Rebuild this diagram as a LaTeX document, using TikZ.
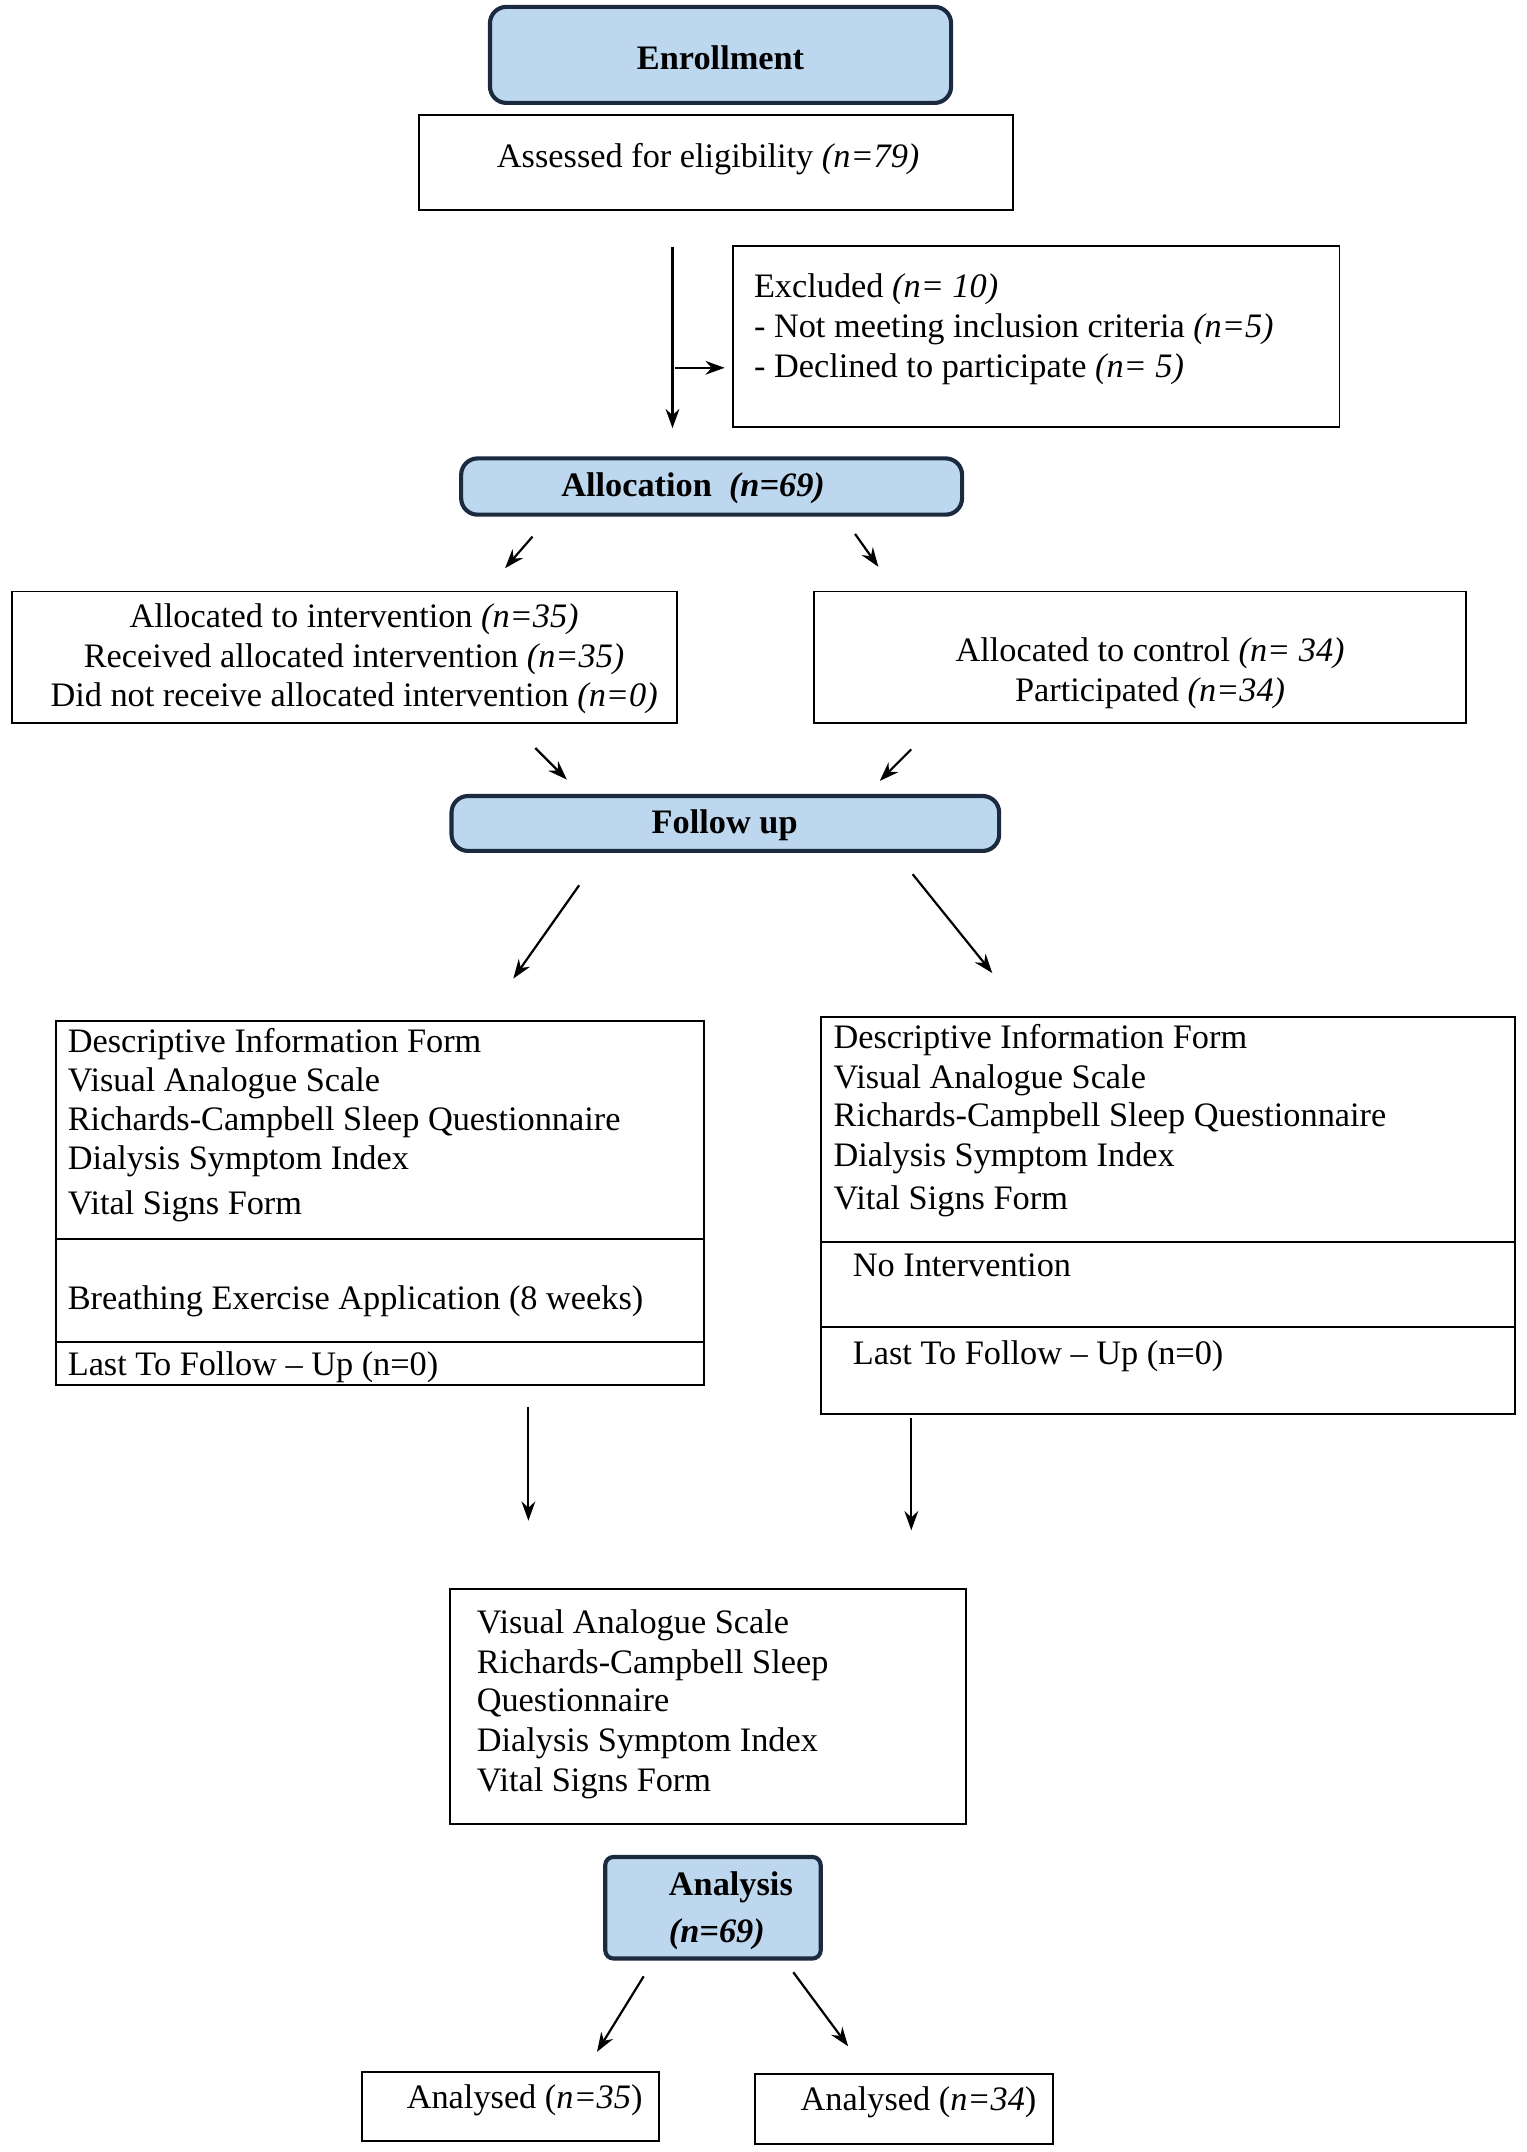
\documentclass[tikz,border=0pt]{standalone}
\usepackage{fontspec}
\setmainfont{Liberation Serif}
\usetikzlibrary{arrows.meta,fit}
\definecolor{hdrfill}{HTML}{BDD7EE}
\definecolor{hdrdraw}{HTML}{1B2A3E}
\begin{document}
\begin{tikzpicture}[x=0.5pt,y=-0.5pt,
  font=\fontsize{12.5}{14.5}\selectfont,
  hdr/.style={draw=hdrdraw, fill=hdrfill, line width=1.5pt, rounded corners=6pt, inner sep=0pt},
  box/.style={draw=black, line width=0.7pt, inner sep=0pt},
  txt/.style={inner sep=0pt, anchor=base west},
  ctxt/.style={inner sep=0pt, anchor=base},
  arr/.style={-{Stealth[length=7pt,width=5pt]}, line width=0.8pt}]
\useasboundingbox[fill=white] (0,0) rectangle (1112,1568);

% ---------- Enrollment ----------
\node[hdr, fit={(357,5) (693,75)}] (enroll) {};
\node[ctxt, font=\fontsize{12.5}{14.5}\selectfont\bfseries] (enrollT) at (525,51) {Enrollment};

\node[box, fit={(305,84) (738,153)}] (assess) {};
\node[ctxt] (assessT) at (516,122) {Assessed for eligibility \textit{(n=79)}};

\coordinate (v1) at (490,180);
\coordinate (v2) at (490,312);
\draw[arr] (v1) -- (v2);
\coordinate (h1) at (492,268);
\coordinate (h2) at (528,268);
\draw[arr] (h1) -- (h2);

\node[box, fit={(534,179) (976,311)}] (excl) {};
\node[txt] (ex1) at (549,217) {Excluded \textit{(n= 10)}};
\node[txt] (ex2) at (549,246) {- Not meeting inclusion criteria \textit{(n=5)}};
\node[txt] (ex3) at (549,275) {- Declined to participate \textit{(n= 5)}};

% ---------- Allocation ----------
\node[hdr, fit={(336,334) (701,375)}] (alloc) {};
\node[ctxt, font=\fontsize{12.5}{14.5}\selectfont\bfseries] (allocT) at (505,362) {Allocation~~\textit{(n=69)}};

\coordinate (a1s) at (388,391); \coordinate (a1e) at (368,414);
\coordinate (a2s) at (623,389); \coordinate (a2e) at (640,413);
\draw[arr] (a1s) -- (a1e);
\draw[arr] (a2s) -- (a2e);

\node[box, fit={(9,431) (493,527)}] (interv) {};
\node[ctxt] (iv1) at (258,457) {Allocated to intervention \textit{(n=35)}};
\node[ctxt] (iv2) at (258,486) {Received allocated intervention \textit{(n=35)}};
\node[ctxt] (iv3) at (258,515) {Did not receive allocated intervention \textit{(n=0)}};

\node[box, fit={(593,431) (1068,527)}] (ctrl) {};
\node[ctxt] (ct1) at (838,482) {Allocated to control \textit{(n= 34)}};
\node[ctxt] (ct2) at (838,511) {Participated \textit{(n=34)}};

\coordinate (b1s) at (390,545); \coordinate (b1e) at (413,568);
\coordinate (b2s) at (664,546); \coordinate (b2e) at (641,569);
\draw[arr] (b1s) -- (b1e);
\draw[arr] (b2s) -- (b2e);

% ---------- Follow up ----------
\node[hdr, fit={(329,580) (728,620)}] (follow) {};
\node[ctxt, font=\fontsize{12.5}{14.5}\selectfont\bfseries] (followT) at (528,607) {Follow up};

\coordinate (c1s) at (422,645); \coordinate (c1e) at (374,713);
\coordinate (c2s) at (665,637); \coordinate (c2e) at (723,709);
\draw[arr] (c1s) -- (c1e);
\draw[arr] (c2s) -- (c2e);

% left big box
\node[box, fit={(41,744) (513,1009)}] (lbox) {};
\coordinate (ld1a) at (41,903);  \coordinate (ld1b) at (513,903);
\coordinate (ld2a) at (41,978);  \coordinate (ld2b) at (513,978);
\draw[line width=0.7pt] (ld1a) -- (ld1b);
\draw[line width=0.7pt] (ld2a) -- (ld2b);
\node[txt] (l1) at (49,767) {Descriptive Information Form};
\node[txt] (l2) at (49,795) {Visual Analogue Scale};
\node[txt] (l3) at (49,824) {Richards-Campbell Sleep Questionnaire};
\node[txt] (l4) at (49,852) {Dialysis Symptom Index};
\node[txt] (l5) at (49,885) {Vital Signs Form};
\node[txt] (l6) at (49,954) {Breathing Exercise Application (8 weeks)};
\node[txt] (l7) at (49,1002) {Last To Follow -- Up (n=0)};

% right big box
\node[box, fit={(598,741) (1104,1030)}] (rbox) {};
\coordinate (rd1a) at (598,905);  \coordinate (rd1b) at (1104,905);
\coordinate (rd2a) at (598,967);  \coordinate (rd2b) at (1104,967);
\draw[line width=0.7pt] (rd1a) -- (rd1b);
\draw[line width=0.7pt] (rd2a) -- (rd2b);
\node[txt] (r1) at (607,764) {Descriptive Information Form};
\node[txt] (r2) at (607,793) {Visual Analogue Scale};
\node[txt] (r3) at (607,821) {Richards-Campbell Sleep Questionnaire};
\node[txt] (r4) at (607,850) {Dialysis Symptom Index};
\node[txt] (r5) at (607,881) {Vital Signs Form};
\node[txt] (r6) at (621,930) {No Intervention};
\node[txt] (r7) at (621,994) {Last To Follow -- Up (n=0)};

\coordinate (d1s) at (385,1025); \coordinate (d1e) at (385,1108);
\coordinate (d2s) at (664,1033); \coordinate (d2e) at (664,1115);
\draw[arr] (d1s) -- (d1e);
\draw[arr] (d2s) -- (d2e);

% ---------- bottom box ----------
\node[box, fit={(328,1158) (704,1329)}] (post) {};
\node[txt] (p1) at (347,1190) {Visual Analogue Scale};
\node[txt] (p2) at (347,1219) {Richards-Campbell Sleep};
\node[txt] (p3) at (347,1247) {Questionnaire};
\node[txt] (p4) at (347,1276) {Dialysis Symptom Index};
\node[txt] (p5) at (347,1305) {Vital Signs Form};

% ---------- Analysis ----------
\node[hdr, rounded corners=3pt, fit={(441,1353) (598,1427)}] (anal) {};
\node[txt, font=\fontsize{12.5}{14.5}\selectfont\bfseries] (analT1) at (487,1381) {Analysis};
\node[txt, font=\fontsize{12.5}{14.5}\selectfont\bfseries\itshape] (analT2) at (487,1415) {(n=69)};

\coordinate (e1s) at (469,1440); \coordinate (e1e) at (435,1495);
\coordinate (e2s) at (578,1437); \coordinate (e2e) at (618,1491);
\draw[arr] (e1s) -- (e1e);
\draw[arr] (e2s) -- (e2e);

\node[box, fit={(264,1510) (480,1560)}] (an1) {};
\node[txt] (an1T) at (296,1536) {Analysed (\textit{n=35})};
\node[box, fit={(550,1511) (767,1562)}] (an2) {};
\node[txt] (an2T) at (583,1538) {Analysed (\textit{n=34})};
\end{tikzpicture}
\end{document}
